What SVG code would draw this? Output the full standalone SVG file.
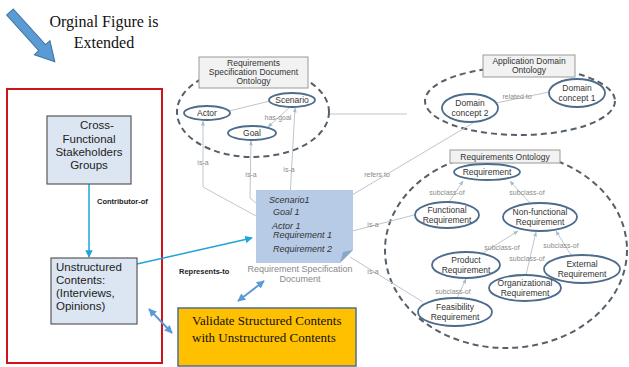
<svg xmlns="http://www.w3.org/2000/svg" width="629" height="367" viewBox="0 0 629 367">
<style>
.serif{font-family:"Liberation Serif","Times New Roman",serif;fill:#111}
.sans{font-family:"Liberation Sans",Arial,sans-serif}
.node{fill:#fff;stroke:#4d6b8a;stroke-width:1.8}
.nt{font-family:"Liberation Sans",Arial,sans-serif;font-size:8.5px;fill:#333;text-anchor:middle}
.ont{fill:#f2f2f2;stroke:#9a9a9a;stroke-width:1}
.dash{fill:none;stroke:#56606a;stroke-width:2;stroke-dasharray:6 4}
.lbl{font-family:"Liberation Sans",Arial,sans-serif;font-size:7px;fill:#8a8a8a;text-anchor:middle}
.lite{fill:none;stroke:#bcc6ce;stroke-width:1}
.cyan{fill:none;stroke:#1ea4da;stroke-width:1.5}
.dbl{fill:none;stroke:#5b9bd5;stroke-width:2}
.box{fill:#dce6f2;stroke:#595959;stroke-width:1.2}
.bt{font-family:"Liberation Sans",Arial,sans-serif;font-size:11.5px;fill:#222}
.doc{font-family:"Liberation Sans",Arial,sans-serif;font-size:9px;font-style:italic;fill:#333}
.bold{font-family:"Liberation Sans",Arial,sans-serif;font-size:7.5px;font-weight:bold;fill:#222}
</style>
<defs>
<marker id="ac" viewBox="0 0 10 10" refX="9" refY="5" markerWidth="5" markerHeight="5" orient="auto"><path d="M0,0 L10,5 L0,10 Z" fill="#1ea4da"/></marker>
<marker id="ab" viewBox="0 0 10 10" refX="9" refY="5" markerWidth="4" markerHeight="4" orient="auto-start-reverse"><path d="M0,0 L10,5 L0,10 Z" fill="#5b9bd5"/></marker>
<marker id="ag" viewBox="0 0 10 10" refX="9" refY="5" markerWidth="5" markerHeight="5" orient="auto"><path d="M0,1 L10,5 L0,9 Z" fill="#a9bccb"/></marker>
</defs>

<!-- title arrow and text -->
<g id="title">
<polygon points="0,-4.5 48,-4.5 48,-10.5 67,0 48,10.5 48,4.5 0,4.5" transform="translate(10,12) rotate(48)" fill="#5b9bd5" stroke="#41719c" stroke-width="1"/>
<text class="serif" x="104" y="27" font-size="16" text-anchor="middle">Orginal Figure is</text>
<text class="serif" x="104" y="48" font-size="16" text-anchor="middle">Extended</text>
</g>

<!-- red frame -->
<g id="frame"><rect x="7" y="89" width="155" height="274" fill="none" stroke="#d0121b" stroke-width="2"/></g>

<!-- ontology containers -->
<g id="rsd-ontology">
<ellipse class="dash" cx="253" cy="112" rx="76" ry="45"/>
<rect class="ont" x="199" y="57" width="109" height="31"/>
<text class="nt" x="253.5" y="66" font-size="8">Requirements</text>
<text class="nt" x="253.5" y="75" font-size="8">Specification Document</text>
<text class="nt" x="253.5" y="84" font-size="8">Ontology</text>
</g>
<g id="app-ontology">
<ellipse class="dash" cx="520" cy="101" rx="95" ry="34"/>
<rect class="ont" x="483" y="55" width="92" height="22"/>
<text class="nt" x="529" y="64" font-size="8">Application Domain</text>
<text class="nt" x="529" y="73" font-size="8">Ontology</text>
</g>
<g id="req-ontology">
<ellipse class="dash" cx="506" cy="250" rx="121" ry="98"/>
<rect class="ont" x="450" y="150" width="110" height="13"/>
<text class="nt" x="505" y="159.5" font-size="8.5">Requirements Ontology</text>
</g>

<!-- connectors -->
<g id="connectors">
<line class="lite" x1="229" y1="111" x2="270" y2="101"/>
<line class="lite" x1="330" y1="114" x2="407" y2="114"/>
<line class="lite" x1="290" y1="107" x2="268" y2="127" marker-end="url(#ag)"/>
<polyline class="lite" points="267,222 203,187 203,121" marker-end="url(#ag)"/>
<polyline class="lite" points="268,213 250,198 251,141" marker-end="url(#ag)"/>
<line class="lite" x1="290" y1="197" x2="295" y2="108" marker-end="url(#ag)"/>
<line class="lite" x1="310" y1="220" x2="473" y2="123"/>
<line class="lite" x1="496" y1="103" x2="549" y2="92"/>
<line class="lite" x1="337" y1="235" x2="414" y2="215"/>
<line class="lite" x1="350" y1="257" x2="423" y2="302"/>
<line class="lite" x1="449" y1="202" x2="463" y2="181" marker-end="url(#ag)"/>
<line class="lite" x1="530" y1="203" x2="510" y2="181" marker-end="url(#ag)"/>
<line class="lite" x1="483" y1="253" x2="518" y2="231" marker-end="url(#ag)"/>
<line class="lite" x1="526" y1="275" x2="536" y2="232" marker-end="url(#ag)"/>
<line class="lite" x1="571" y1="255" x2="556" y2="231" marker-end="url(#ag)"/>
<line class="lite" x1="457" y1="298" x2="466" y2="279" marker-end="url(#ag)"/>
<line class="cyan" x1="89" y1="184" x2="89" y2="257" marker-end="url(#ac)"/>
<line class="cyan" x1="137" y1="264" x2="252" y2="238" marker-end="url(#ac)"/>
<line class="dbl" x1="149" y1="309" x2="172" y2="333" marker-start="url(#ab)" marker-end="url(#ab)"/>
<line class="dbl" x1="238" y1="301" x2="264" y2="281" marker-start="url(#ab)" marker-end="url(#ab)"/>
<text class="lbl" x="278" y="120">has-goal</text>
<text class="lbl" x="203" y="165">is-a</text>
<text class="lbl" x="251" y="177">is-a</text>
<text class="lbl" x="289" y="172">is-a</text>
<text class="lbl" x="377" y="177">refers to</text>
<text class="lbl" x="517" y="99">related to</text>
<text class="lbl" x="373" y="227">is-a</text>
<text class="lbl" x="373" y="274">is-a</text>
<text class="lbl" x="447" y="195">subclass-of</text>
<text class="lbl" x="527" y="195">subclass-of</text>
<text class="lbl" x="502" y="250">subclass-of</text>
<text class="lbl" x="561" y="248">subclass-of</text>
<text class="lbl" x="527" y="261">subclass-of</text>
<text class="lbl" x="453" y="294">subclass-of</text>
<text class="bold" x="97" y="204">Contributor-of</text>
<text class="bold" x="179" y="274">Represents-to</text>
</g>

<!-- nodes -->
<g id="cross-functional">
<rect class="box" x="47" y="116" width="84" height="68"/>
<text class="bt" x="97" y="129" text-anchor="middle">Cross-</text>
<text class="bt" x="89" y="143" text-anchor="middle">Functional</text>
<text class="bt" x="89" y="156" text-anchor="middle">Stakeholders</text>
<text class="bt" x="89" y="169" text-anchor="middle">Groups</text>
</g>
<g id="unstructured">
<rect class="box" x="51" y="258" width="86" height="66"/>
<text class="bt" x="56" y="271">Unstructured</text>
<text class="bt" x="56" y="284">Contents:</text>
<text class="bt" x="56" y="297">(Interviews,</text>
<text class="bt" x="56" y="310">Opinions)</text>
</g>
<g id="validate">
<rect x="178" y="308" width="178" height="58" fill="#ffc000" stroke="#4f6f8f" stroke-width="1.5"/>
<text class="serif" x="192" y="325" font-size="13">Validate Structured Contents</text>
<text class="serif" x="192" y="342" font-size="13">with Unstructured Contents</text>
</g>
<g id="req-spec-doc">
<path d="M256,190 H353 V250 L340,263 H256 Z" fill="#b7cbe7"/>
<path d="M340,263 L343,252 L353,250 Z" fill="#8ea6c6"/>
<text class="doc" x="269" y="203">Scenario1</text>
<text class="doc" x="273" y="215">Goal 1</text>
<text class="doc" x="272" y="229">Actor 1</text>
<text class="doc" x="273" y="238">Requirement 1</text>
<text class="doc" x="273" y="252">Requirement 2</text>
<text class="sans" x="300" y="272" font-size="9" fill="#888" text-anchor="middle">Requirement Specification</text>
<text class="sans" x="300" y="282" font-size="9" fill="#888" text-anchor="middle">Document</text>
</g>
<g id="actor"><ellipse class="node" cx="207" cy="113" rx="23" ry="7"/><text class="nt" x="207" y="116">Actor</text></g>
<g id="scenario"><ellipse class="node" cx="292" cy="100" rx="23" ry="7"/><text class="nt" x="292" y="103">Scenario</text></g>
<g id="goal"><ellipse class="node" cx="252" cy="133" rx="24" ry="7"/><text class="nt" x="252" y="136">Goal</text></g>
<g id="domain1"><ellipse class="node" cx="577" cy="93" rx="28" ry="14"/><text class="nt" x="577" y="91">Domain</text><text class="nt" x="577" y="101">concept 1</text></g>
<g id="domain2"><ellipse class="node" cx="470" cy="108" rx="28" ry="14"/><text class="nt" x="470" y="106">Domain</text><text class="nt" x="470" y="116">concept 2</text></g>
<g id="requirement"><ellipse class="node" cx="487" cy="172" rx="33" ry="8"/><text class="nt" x="487" y="175">Requirement</text></g>
<g id="functional"><ellipse class="node" cx="447" cy="215" rx="32" ry="13"/><text class="nt" x="447" y="213">Functional</text><text class="nt" x="447" y="223">Requirement</text></g>
<g id="nonfunctional"><ellipse class="node" cx="540" cy="217" rx="37" ry="14"/><text class="nt" x="540" y="215">Non-functional</text><text class="nt" x="540" y="225">Requirement</text></g>
<g id="product"><ellipse class="node" cx="466" cy="265" rx="34" ry="13"/><text class="nt" x="466" y="263">Product</text><text class="nt" x="466" y="273">Requirement</text></g>
<g id="organizational"><ellipse class="node" cx="525" cy="288" rx="36" ry="13"/><text class="nt" x="525" y="286">Organizational</text><text class="nt" x="525" y="296">Requirement</text></g>
<g id="external"><ellipse class="node" cx="582" cy="269" rx="38" ry="14"/><text class="nt" x="582" y="267">External</text><text class="nt" x="582" y="277">Requirement</text></g>
<g id="feasibility"><ellipse class="node" cx="455" cy="312" rx="37" ry="14"/><text class="nt" x="455" y="310">Feasibility</text><text class="nt" x="455" y="320">Requirement</text></g>
</svg>
